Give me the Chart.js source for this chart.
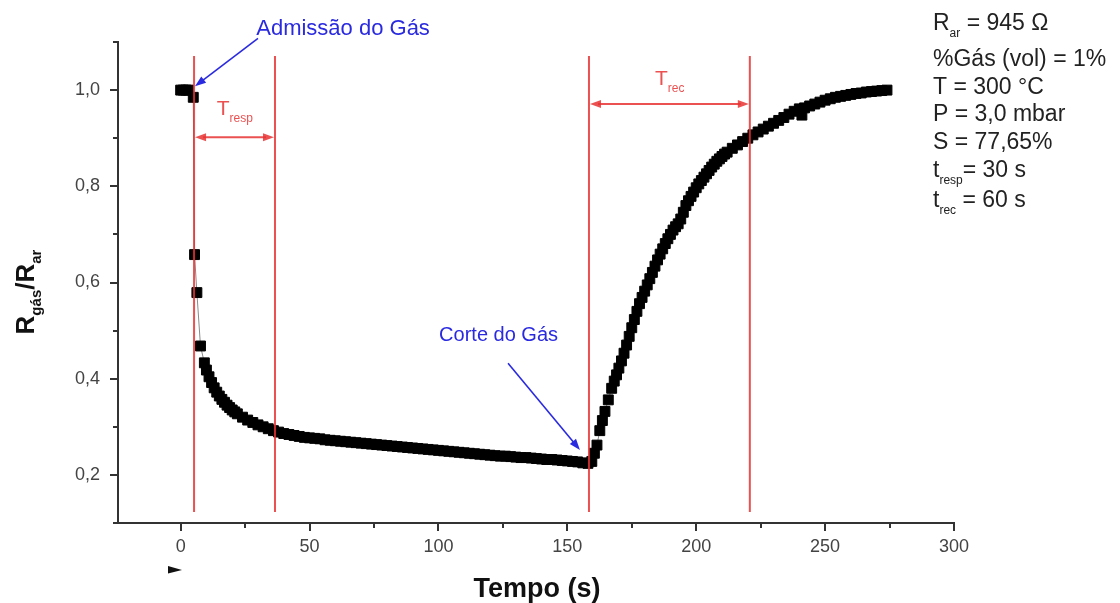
<!DOCTYPE html>
<html>
<head>
<meta charset="utf-8">
<script src="https://cdn.jsdelivr.net/npm/chart.js@4.4.0/dist/chart.umd.min.js"></script>
<style>
  html, body { margin: 0; padding: 0; background: #fff; }
  #wrap { width: 1120px; height: 603px; }
</style>
</head>
<body>
<div id="wrap"><canvas id="chart" width="1120" height="603"></canvas></div>
<script>
// --- data ---
// baseline in air
const tempoAr = [0, 1, 2, 3, 4.9];
const razaoAr = [1.0, 1.0, 1.0, 1.0, 0.985];

// gas admitted: response
const tempoGas = [5.4, 6.3, 7.7, 9.2,
  10, 11, 12, 13, 14, 15, 16, 17, 18, 19, 20, 21, 22, 24, 26, 28, 30, 32, 34, 36, 38, 40,
  42, 44, 46, 48, 50, 52, 54, 56, 58, 60, 62, 64, 66, 68, 70, 72,
  74, 76, 78, 80, 82, 84, 86, 88, 90, 92, 94, 96, 98, 100, 102, 104,
  106, 108, 110, 112, 114, 116, 118, 120, 122, 124, 126, 128, 130, 132, 134, 136,
  138, 140, 142, 144, 146, 148, 150, 152, 154, 156, 158];
const razaoGas = [0.658, 0.579, 0.468, 0.433,
  0.418, 0.404, 0.392, 0.381, 0.372, 0.364, 0.357, 0.351, 0.345, 0.340, 0.335, 0.331, 0.327, 0.320, 0.314, 0.309, 0.304, 0.300, 0.296, 0.292, 0.289, 0.286,
  0.284, 0.282, 0.280, 0.278, 0.277, 0.276, 0.275, 0.273, 0.272, 0.271, 0.270, 0.269, 0.268, 0.267, 0.266, 0.265,
  0.264, 0.263, 0.262, 0.261, 0.260, 0.259, 0.258, 0.257, 0.256, 0.255, 0.254, 0.253, 0.252, 0.251, 0.250, 0.249,
  0.248, 0.247, 0.246, 0.245, 0.244, 0.243, 0.242, 0.241, 0.240, 0.239, 0.239, 0.238, 0.237, 0.236, 0.236, 0.235,
  0.234, 0.233, 0.232, 0.232, 0.231, 0.230, 0.229, 0.228, 0.227, 0.225, 0.224];

// gas cut: recovery
const tempoRec = [159.5, 160.5, 161.5, 162.6, 163.6, 164.6, 165.9, 167.2, 168.2, 169.1,
  170, 171, 172, 173, 174, 175, 176, 177, 178, 179, 180, 181, 182, 183, 184, 185,
  186, 187, 188, 189, 190, 191, 192, 193, 194, 195, 196, 197, 198, 199, 200, 201, 202, 203, 204, 205, 206,
  207, 208, 209, 210, 211, 212, 214, 216, 218, 220, 222, 224, 226, 228, 230, 232, 234, 236, 238,
  240, 241, 242, 244, 246, 248, 250, 252, 254, 256, 258, 260, 262, 264, 266, 268,
  270, 272, 274];
const razaoRec = [0.228, 0.245, 0.262, 0.292, 0.313, 0.332, 0.356, 0.380, 0.395, 0.408,
  0.422, 0.437, 0.453, 0.470, 0.488, 0.506, 0.523, 0.540, 0.556, 0.569, 0.582, 0.595, 0.608, 0.621, 0.634, 0.647,
  0.659, 0.670, 0.681, 0.691, 0.700, 0.709, 0.716, 0.722, 0.732, 0.746, 0.760, 0.770, 0.779, 0.788, 0.797, 0.805, 0.812, 0.819, 0.826, 0.833, 0.840,
  0.846, 0.852, 0.857, 0.862, 0.867, 0.871, 0.879, 0.886, 0.893, 0.900, 0.907, 0.913, 0.919, 0.925, 0.931, 0.937, 0.943, 0.950, 0.956,
  0.961, 0.948, 0.963, 0.967, 0.971, 0.975, 0.979, 0.982, 0.985, 0.987, 0.989, 0.991, 0.993, 0.994, 0.996, 0.997,
  0.998, 0.999, 1.000];

// axis ticks
const xMajor = [0, 50, 100, 150, 200, 250, 300];
const yMajor = [0.2, 0.4, 0.6, 0.8, 1.0];

// red marker lines (s): admission, end of T_resp, cut, end of T_rec
const marcas = [5.2, 36.6, 158.4, 220.8];

// condition box, right side
const condicoes = [
  [['R', 0], ['ar', 1], [' = 945 \u03A9', 0]],
  [['%Gás (vol) = 1%', 0]],
  [['T = 300 °C', 0]],
  [['P = 3,0 mbar', 0]],
  [['S = 77,65%', 0]],
  [['t', 0], ['resp', 1], ['= 30 s', 0]],
  [['t', 0], ['rec', 1], [' = 60 s', 0]],
];

const points = [];
[[tempoAr, razaoAr], [tempoGas, razaoGas], [tempoRec, razaoRec]].forEach(([ts, rs]) => {
  ts.forEach((t, i) => points.push({ x: t, y: rs[i] }));
});

const FONT = '"Liberation Sans", Arial, sans-serif';
const RED = 'rgba(232, 50, 50, 0.85)';
const BLUE = '#2a2ae0';

function subText(ctx, x, y, parts, size, subSize, weight, subDrop) {
  let cx = x;
  parts.forEach(([t, s]) => {
    ctx.font = `${weight} ${s ? subSize : size}px ${FONT}`;
    ctx.fillText(t, cx, s ? y + subDrop : y);
    cx += ctx.measureText(t).width;
  });
  return cx - x;
}

function arrowHead(ctx, x1, y1, x2, y2, len, half) {
  const a = Math.atan2(y2 - y1, x2 - x1);
  ctx.beginPath();
  ctx.moveTo(x2, y2);
  ctx.lineTo(x2 - len * Math.cos(a) + half * Math.sin(a), y2 - len * Math.sin(a) - half * Math.cos(a));
  ctx.lineTo(x2 - len * Math.cos(a) - half * Math.sin(a), y2 - len * Math.sin(a) + half * Math.cos(a));
  ctx.closePath();
  ctx.fill();
}

function arrow(ctx, x1, y1, x2, y2, len, half) {
  const a = Math.atan2(y2 - y1, x2 - x1);
  ctx.beginPath();
  ctx.moveTo(x1, y1);
  ctx.lineTo(x2 - len * 0.7 * Math.cos(a), y2 - len * 0.7 * Math.sin(a));
  ctx.stroke();
  arrowHead(ctx, x1, y1, x2, y2, len, half);
}

const isMajorX = v => xMajor.includes(v);
const isMajorY = v => yMajor.some(m => Math.abs(m - v) < 1e-6);

const decor = {
  id: 'decor',
  afterDraw(chart) {
    const ctx = chart.ctx;
    const xs = chart.scales.x, ys = chart.scales.y;
    const area = chart.chartArea;
    const X = v => xs.getPixelForValue(v);
    const Y = v => ys.getPixelForValue(v);
    ctx.save();

    // tick marks, major and minor
    ctx.strokeStyle = '#333';
    ctx.lineWidth = 2;
    xs.ticks.forEach(t => {
      const px = Math.round(X(t.value));
      const len = isMajorX(t.value) ? 8 : 5;
      ctx.beginPath(); ctx.moveTo(px, area.bottom); ctx.lineTo(px, area.bottom + len); ctx.stroke();
    });
    ys.ticks.forEach(t => {
      const py = Math.round(Y(t.value));
      const len = isMajorY(t.value) ? 8 : 5;
      ctx.beginPath(); ctx.moveTo(area.left, py); ctx.lineTo(area.left - len, py); ctx.stroke();
    });

    // red vertical lines
    ctx.strokeStyle = RED;
    ctx.fillStyle = RED;
    ctx.lineWidth = 2;
    marcas.forEach(m => {
      ctx.beginPath(); ctx.moveTo(X(m), Y(1.071)); ctx.lineTo(X(m), Y(0.123)); ctx.stroke();
    });
    // double arrows
    const dbl = (a, b, yv) => {
      const y = Y(yv), x1 = X(a) + 1, x2 = X(b) - 1;
      ctx.beginPath(); ctx.moveTo(x1 + 8, y); ctx.lineTo(x2 - 8, y); ctx.stroke();
      arrowHead(ctx, x2, y, x1, y, 11, 4);
      arrowHead(ctx, x1, y, x2, y, 11, 4);
    };
    dbl(marcas[0], marcas[1], 0.902);
    dbl(marcas[2], marcas[3], 0.971);
    ctx.textBaseline = 'alphabetic';
    ctx.textAlign = 'left';
    subText(ctx, X(14), Y(0.948), [['T', 0], ['resp', 1]], 21, 12, 'normal', 7);
    subText(ctx, X(184), Y(1.010), [['T', 0], ['rec', 1]], 21, 12, 'normal', 7);

    // blue annotations
    ctx.strokeStyle = BLUE;
    ctx.fillStyle = BLUE;
    ctx.lineWidth = 1.6;
    arrow(ctx, X(30), Y(1.1075), X(5.55), Y(1.008), 11, 4);
    arrow(ctx, X(127), Y(0.432), X(154.9), Y(0.252), 11, 4);
    ctx.font = `22px ${FONT}`;
    ctx.textAlign = 'center';
    ctx.fillText('Admissão do Gás', X(63), Y(1.115));
    ctx.font = `20px ${FONT}`;
    ctx.textAlign = 'right';
    ctx.fillText('Corte do Gás', X(146.4), Y(0.478));

    // conditions box
    ctx.fillStyle = '#222';
    ctx.textAlign = 'left';
    const baselines = [30, 66, 94, 121, 149, 177, 207];
    condicoes.forEach((parts, i) => {
      subText(ctx, 933, baselines[i], parts, 23, 12, 'normal', 7);
    });

    // axis titles
    ctx.fillStyle = '#111';
    ctx.font = `bold 27px ${FONT}`;
    ctx.textAlign = 'center';
    ctx.fillText('Tempo (s)', 537, 597);

    const yTitle = [['R', 0], ['gás', 1], ['/R', 0], ['ar', 1]];
    ctx.textAlign = 'left';
    let w = 0;
    yTitle.forEach(([t, s]) => { ctx.font = `bold ${s ? 15 : 26}px ${FONT}`; w += ctx.measureText(t).width; });
    ctx.translate(34, 292);
    ctx.rotate(-Math.PI / 2);
    subText(ctx, -w / 2, 0, yTitle, 26, 15, 'bold', 7);
    ctx.setTransform(1, 0, 0, 1, 0, 0);

    // small stray marker under the axis
    ctx.fillStyle = '#111';
    ctx.beginPath();
    ctx.moveTo(168, 566); ctx.lineTo(182, 570); ctx.lineTo(168, 573.5); ctx.closePath(); ctx.fill();

    ctx.restore();
  }
};

new Chart(document.getElementById('chart'), {
  type: 'scatter',
  data: {
    datasets: [{
      data: points,
      showLine: true,
      borderColor: '#8a8a8a',
      borderWidth: 1,
      pointStyle: 'rect',
      pointRadius: 7,
      pointBorderWidth: 1,
      pointBackgroundColor: '#000',
      pointBorderColor: '#000',
      tension: 0
    }]
  },
  options: {
    responsive: false,
    animation: false,
    events: [],
    layout: { padding: { left: 0, top: 42, right: 166, bottom: 0 } },
    plugins: { legend: { display: false }, tooltip: { enabled: false } },
    scales: {
      x: {
        type: 'linear',
        min: -24.3,
        max: 300,
        afterFit: s => { s.height = 80; },
        border: { display: true, color: '#333', width: 2 },
        grid: { display: true, drawOnChartArea: false, drawTicks: false },
        ticks: {
          stepSize: 25,
          includeBounds: false,
          autoSkip: false,
          maxRotation: 0,
          padding: 13,
          color: '#444',
          font: { family: FONT, size: 18 },
          callback: v => isMajorX(v) ? String(v) : ''
        }
      },
      y: {
        type: 'linear',
        min: 0.1,
        max: 1.1,
        afterFit: s => { s.width = 118; },
        border: { display: true, color: '#333', width: 2 },
        grid: { display: true, drawOnChartArea: false, drawTicks: false },
        ticks: {
          stepSize: 0.1,
          autoSkip: false,
          padding: 18,
          color: '#444',
          font: { family: FONT, size: 18 },
          callback: v => isMajorY(v) ? v.toFixed(1).replace('.', ',') : ''
        }
      }
    }
  },
  plugins: [decor]
});
</script>
</body>
</html>
